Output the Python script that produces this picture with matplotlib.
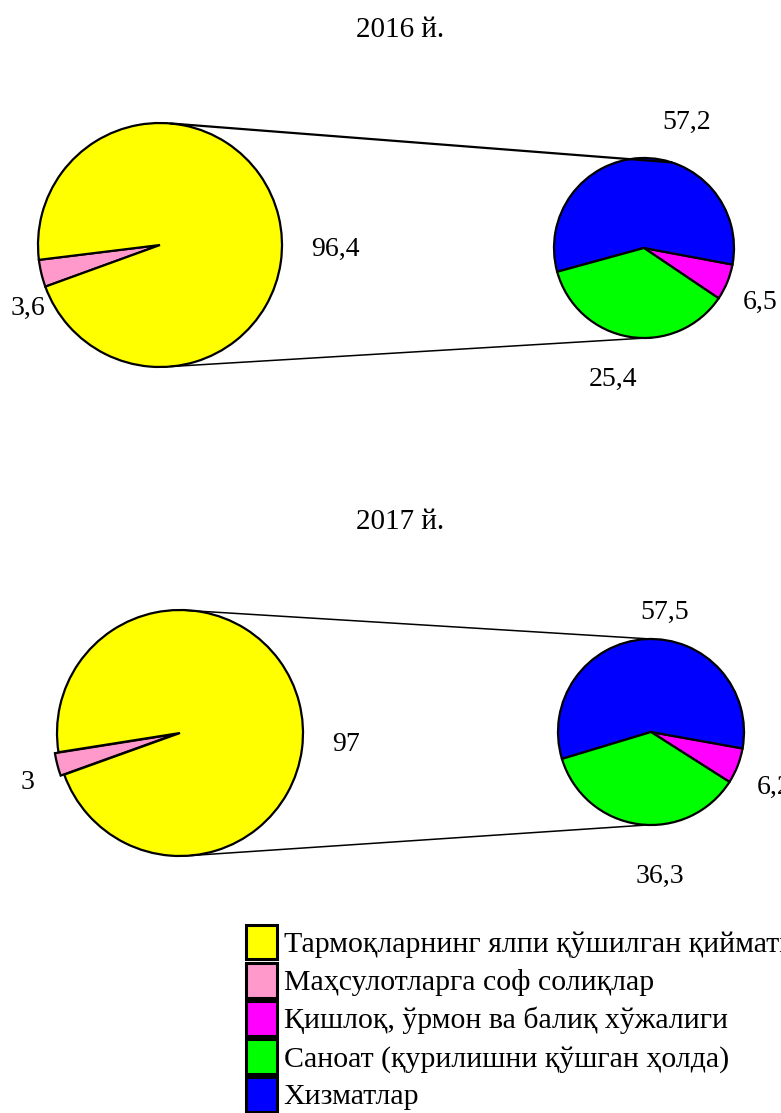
import matplotlib
matplotlib.use("Agg")
import matplotlib.pyplot as plt
import numpy as np
from matplotlib.patches import Patch, ConnectionPatch

plt.rcParams['font.family'] = ['Liberation Serif', 'DejaVu Serif']

# ---- data ----
years = ["2016 й.", "2017 й."]
categories = ["Тармоқларнинг ялпи қўшилган қиймати",
              "Маҳсулотларга соф солиқлар",
              "Қишлоқ, ўрмон ва балиқ хўжалиги",
              "Саноат (қурилишни қўшган ҳолда)",
              "Хизматлар"]
colors = ["#FFFF00", "#FF99CC", "#FF00FF", "#00FF00", "#0000FF"]

# main pie: [net taxes, gross value added]
main_2016 = [3.6, 96.4]
main_2017 = [3, 97]
main_labels_2016 = ["3,6", "96,4"]
main_labels_2017 = ["3", "97"]

# secondary pie: [agriculture, services, industry]
# (2016 green slice is drawn at ~36 % although its label reads 25,4)
sub_2016 = [6.5, 57.2, 36.3]
sub_2017 = [6.2, 57.5, 36.3]
sub_labels_2016 = ["6,5", "57,2", "25,4"]
sub_labels_2017 = ["6,2", "57,5", "36,3"]

# ---- layout (pixels) ----
W, H = 781, 1113
fig = plt.figure(figsize=(W / 100, H / 100), dpi=100)


def pie_axes(cx, cy, r):
    half = 1.25 * r
    return fig.add_axes([(cx - half) / W, 1 - (cy + half) / H, 2 * half / W, 2 * half / H])


def draw_pie(ax, values, cols, start, explode, labels, label_pos):
    ax.pie(values, colors=cols, startangle=start, counterclock=True, explode=explode,
           wedgeprops=dict(edgecolor="black", linewidth=1.6))
    ax.set_xlim(-1.25, 1.25)
    ax.set_ylim(-1.25, 1.25)
    for lab, (x, y) in zip(labels, label_pos):
        ax.text(x, y, lab, ha="center", va="center", fontsize=20)


def connect(axA, axB, angA, angB, lw):
    a, b = np.radians(angA), np.radians(angB)
    con = ConnectionPatch(xyA=(np.cos(a), np.sin(a)), coordsA=axA.transData,
                          xyB=(np.cos(b), np.sin(b)), coordsB=axB.transData,
                          color="black", linewidth=lw)
    fig.add_artist(con)


panels = [
    dict(title=years[0], ty=30,
         main=main_2016, main_labels=main_labels_2016, main_c=(160, 245, 122), main_start=187,
         main_explode=[0, 0], main_pos=[(-1.08, -0.52), (1.44, -0.04)],
         sub=sub_2016, sub_labels=sub_labels_2016, sub_c=(644, 248, 90), sub_start=-34,
         sub_pos=[(1.29, -0.60), (0.47, 1.40), (-0.34, -1.46)],
         lines=[(85, 72, 1.6), (-85, -85, 1.1)]),
    dict(title=years[1], ty=522,
         main=main_2017, main_labels=main_labels_2017, main_c=(180, 733, 123), main_start=189,
         main_explode=[0.03, 0], main_pos=[(-1.24, -0.40), (1.35, -0.09)],
         sub=sub_2017, sub_labels=sub_labels_2017, sub_c=(651, 732, 93), sub_start=-32.5,
         sub_pos=[(1.32, -0.60), (0.15, 1.29), (0.10, -1.55)],
         lines=[(90, 90, 1.1), (-85, -92, 1.1)]),
]

for p in panels:
    fig.text(400 / W, 1 - p["ty"] / H, p["title"], ha="center", va="center", fontsize=21)
    axL = pie_axes(*p["main_c"])
    draw_pie(axL, p["main"], [colors[1], colors[0]], p["main_start"], p["main_explode"],
             p["main_labels"], p["main_pos"])
    axR = pie_axes(*p["sub_c"])
    draw_pie(axR, p["sub"], [colors[2], colors[4], colors[3]], p["sub_start"], None,
             p["sub_labels"], p["sub_pos"])
    for angA, angB, lw in p["lines"]:
        connect(axL, axR, angA, angB, lw)

handles = [Patch(facecolor=c, edgecolor="black", linewidth=2.2) for c in colors]
fig.legend(handles, categories, loc="upper left", bbox_to_anchor=(246 / W, 1 - 925 / H),
           frameon=False, fontsize=21.5, handlelength=1.04, handleheight=1.4,
           handletextpad=0.22, labelspacing=0.12, borderpad=0, borderaxespad=0)

fig.savefig("out.png", dpi=100)
